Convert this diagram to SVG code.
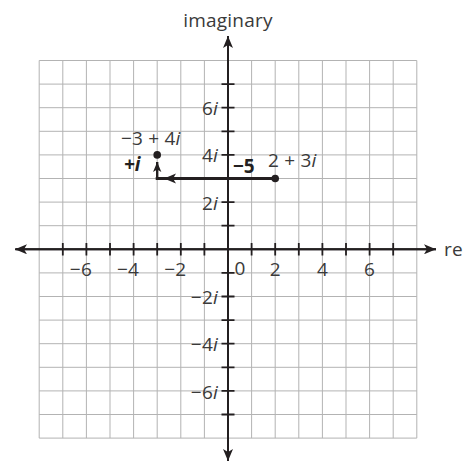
<svg xmlns="http://www.w3.org/2000/svg" width="465" height="461" viewBox="0 0 465 461">
<defs>
<style>
.grid{stroke:#b3b3b3;stroke-width:1;fill:none}
.axis{stroke:#231f20;stroke-width:2;fill:none}
.tick{stroke:#231f20;stroke-width:1.8;fill:none}
.vec{stroke:#231f20;fill:none}
text{font-family:"Open Sans","Liberation Sans",sans-serif;font-size:19px;fill:#3a3a3a;letter-spacing:0.2px}
.b{font-weight:bold;fill:#231f20;letter-spacing:0}
.it{font-style:italic}
</style>
<marker id="ah" viewBox="0 0 12 10" refX="12" refY="5" markerWidth="12" markerHeight="10" orient="auto" markerUnits="userSpaceOnUse">
<path d="M0,0 L12,5 L0,10 L3,5 Z" fill="#231f20"/>
</marker>
<marker id="ahv" viewBox="0 0 12 10" refX="12" refY="5" markerWidth="12" markerHeight="11" orient="auto" markerUnits="userSpaceOnUse">
<path d="M0,0 L12,5 L0,10 L3,5 Z" fill="#231f20"/>
</marker>
<marker id="ahs" viewBox="0 0 12 10" refX="12" refY="5" markerWidth="10" markerHeight="9" orient="auto" markerUnits="userSpaceOnUse">
<path d="M0,0 L12,5 L0,10 L3,5 Z" fill="#231f20"/>
</marker>
</defs>
<g id="grid">
<path class="grid" d="M39.2,60.5V438.1M62.8,60.5V438.1M86.4,60.5V438.1M110,60.5V438.1M133.6,60.5V438.1M157.2,60.5V438.1M180.8,60.5V438.1M204.4,60.5V438.1M251.6,60.5V438.1M275.2,60.5V438.1M298.8,60.5V438.1M322.4,60.5V438.1M346,60.5V438.1M369.6,60.5V438.1M393.2,60.5V438.1M416.8,60.5V438.1"/>
<path class="grid" d="M39.2,60.5H416.8M39.2,84.1H416.8M39.2,107.7H416.8M39.2,131.3H416.8M39.2,154.9H416.8M39.2,178.5H416.8M39.2,202.1H416.8M39.2,225.7H416.8M39.2,272.9H416.8M39.2,296.5H416.8M39.2,320.1H416.8M39.2,343.7H416.8M39.2,367.3H416.8M39.2,390.9H416.8M39.2,414.5H416.8M39.2,438.1H416.8"/>
</g>
<g id="axes">
<path class="axis" d="M436,249.3H15" marker-end="url(#ah)"/>
<path class="axis" d="M16,249.3H436" marker-end="url(#ah)"/>
<path class="axis" d="M228,460V36" marker-end="url(#ah)"/>
<path class="axis" d="M228,37V461" marker-end="url(#ah)"/>
<path class="tick" d="M62.8,243V255.6M86.4,243V255.6M110,243V255.6M133.6,243V255.6M157.2,243V255.6M180.8,243V255.6M204.4,243V255.6M251.6,243V255.6M275.2,243V255.6M298.8,243V255.6M322.4,243V255.6M346,243V255.6M369.6,243V255.6M393.2,243V255.6"/>
<path class="tick" d="M221.5,84.1H234.5M221.5,107.7H234.5M221.5,131.3H234.5M221.5,154.9H234.5M221.5,178.5H234.5M221.5,202.1H234.5M221.5,225.7H234.5M221.5,272.9H234.5M221.5,296.5H234.5M221.5,320.1H234.5M221.5,343.7H234.5M221.5,367.3H234.5M221.5,390.9H234.5M221.5,414.5H234.5"/>
<text x="228" y="27" text-anchor="middle">imaginary</text>
<text x="444" y="256">re</text>
<g text-anchor="end">
<text x="92" y="276">−6</text>
<text x="139.2" y="276">−4</text>
<text x="186.4" y="276">−2</text>
<text x="280.8" y="276">2</text>
<text x="328" y="276">4</text>
<text x="375.2" y="276">6</text>
</g>
<text x="234.5" y="274.5">0</text>
<g text-anchor="end">
<text x="218" y="115">6<tspan class="it">i</tspan></text>
<text x="218" y="162">4<tspan class="it">i</tspan></text>
<text x="218" y="209.5">2<tspan class="it">i</tspan></text>
<text x="218" y="304">−2<tspan class="it">i</tspan></text>
<text x="218" y="351">−4<tspan class="it">i</tspan></text>
<text x="218" y="398.5">−6<tspan class="it">i</tspan></text>
</g>
</g>
<g id="connectors">
<path class="vec" stroke-width="3" d="M275.2,178.5H164" marker-end="url(#ahv)"/>
<path class="vec" stroke-width="3" d="M166,178.5H155.7"/>
<path class="vec" stroke-width="2.4" d="M157.2,180V162" marker-end="url(#ahs)"/>
</g>
<g id="p1">
<circle cx="275.2" cy="178.5" r="3.8" fill="#231f20"/>
<text x="268" y="166.5">2 + 3<tspan class="it">i</tspan></text>
</g>
<g id="p2">
<circle cx="157.2" cy="154.9" r="3.8" fill="#231f20"/>
<text x="121" y="145">−3 + 4<tspan class="it">i</tspan></text>
</g>
<g id="l1"><text class="b" x="233" y="172.5">−5</text></g>
<g id="l2"><text class="b it" x="124" y="171">+i</text></g>
</svg>
